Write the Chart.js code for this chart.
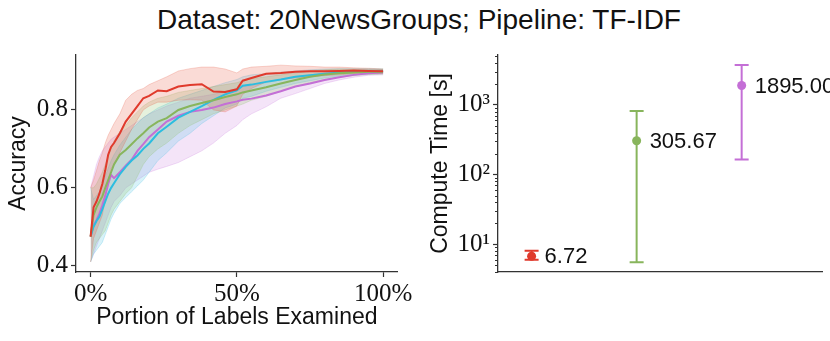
<!DOCTYPE html>
<html>
<head>
<meta charset="utf-8">
<script src="https://cdn.jsdelivr.net/npm/chart.js@4/dist/chart.umd.min.js"></script>
<style>
  html, body { margin: 0; padding: 0; background: #fff; overflow: hidden; }
  #wrap { position: relative; width: 830px; height: 341px; }
  #title { position: absolute; left: 0; top: 6px; width: 838px; text-align: center;
           font-family: "Liberation Sans", Arial, sans-serif; font-size: 28px; line-height: 28px; color: #111; }
  #left { position: absolute; left: 0; top: 0; }
  #right { position: absolute; left: 415px; top: 0; }
</style>
</head>
<body>
<div id="wrap">
  <div id="title">Dataset: 20NewsGroups; Pipeline: TF-IDF</div>
  <canvas id="left" width="415" height="341"></canvas>
  <canvas id="right" width="415" height="341"></canvas>
</div>
<script>
// portion of labels examined (%)
const pct = [0,1,2,3,4,5,6,7,8,10,12,14,16,18,20,23,26,30,34,38,42,46,50,52,55,60,65,70,75,80,85,90,95,100];

// red
const redMean  = [0.475,0.55,0.565,0.585,0.61,0.645,0.685,0.705,0.715,0.74,0.77,0.79,0.81,0.83,0.836,0.85,0.848,0.86,0.864,0.866,0.847,0.846,0.853,0.875,0.882,0.893,0.895,0.898,0.899,0.899,0.9,0.901,0.9,0.899];
const redHigh  = [0.6,0.62,0.645,0.67,0.69,0.715,0.735,0.75,0.765,0.79,0.825,0.84,0.85,0.855,0.865,0.875,0.885,0.9,0.906,0.91,0.91,0.905,0.895,0.905,0.91,0.912,0.915,0.913,0.912,0.91,0.91,0.908,0.907,0.905];
const redLow   = [0.41,0.47,0.49,0.51,0.53,0.57,0.62,0.65,0.66,0.69,0.72,0.75,0.775,0.8,0.81,0.82,0.82,0.825,0.826,0.825,0.8,0.795,0.81,0.84,0.855,0.872,0.878,0.882,0.885,0.888,0.89,0.893,0.893,0.893];
// green
const greenMean = [0.475,0.53,0.55,0.565,0.578,0.6,0.62,0.64,0.66,0.685,0.697,0.712,0.727,0.74,0.755,0.77,0.779,0.8,0.81,0.818,0.825,0.833,0.84,0.845,0.85,0.858,0.868,0.877,0.885,0.891,0.894,0.896,0.898,0.898];
const greenHigh = [0.6,0.6,0.61,0.625,0.64,0.66,0.68,0.7,0.72,0.745,0.76,0.78,0.795,0.81,0.82,0.83,0.835,0.845,0.85,0.855,0.86,0.865,0.87,0.875,0.88,0.885,0.89,0.895,0.9,0.903,0.905,0.905,0.905,0.905];
const greenLow  = [0.41,0.44,0.46,0.47,0.48,0.49,0.51,0.53,0.545,0.565,0.585,0.6,0.63,0.66,0.68,0.7,0.715,0.74,0.76,0.775,0.79,0.8,0.81,0.815,0.825,0.835,0.848,0.86,0.87,0.878,0.884,0.888,0.891,0.892];
// cyan
const cyanMean = [0.475,0.5,0.515,0.526,0.545,0.565,0.585,0.6,0.612,0.635,0.654,0.67,0.683,0.7,0.714,0.74,0.757,0.78,0.795,0.81,0.826,0.84,0.85,0.862,0.865,0.872,0.878,0.885,0.889,0.893,0.896,0.898,0.899,0.899];
const cyanHigh = [0.6,0.57,0.58,0.59,0.61,0.63,0.65,0.67,0.685,0.71,0.73,0.75,0.765,0.78,0.79,0.805,0.815,0.83,0.84,0.85,0.86,0.87,0.878,0.885,0.89,0.893,0.897,0.9,0.903,0.905,0.906,0.906,0.906,0.905];
const cyanLow  = [0.41,0.43,0.44,0.45,0.46,0.48,0.5,0.52,0.535,0.56,0.575,0.59,0.605,0.62,0.64,0.67,0.69,0.72,0.74,0.765,0.785,0.805,0.815,0.83,0.835,0.848,0.858,0.868,0.875,0.882,0.887,0.89,0.892,0.893];
// purple
const purpleMean = [0.475,0.505,0.517,0.534,0.555,0.58,0.61,0.633,0.625,0.64,0.657,0.672,0.695,0.712,0.73,0.75,0.77,0.785,0.795,0.8,0.806,0.815,0.822,0.826,0.829,0.837,0.848,0.86,0.868,0.877,0.884,0.89,0.894,0.897];
const purpleHigh = [0.6,0.63,0.66,0.68,0.695,0.705,0.715,0.725,0.73,0.74,0.75,0.76,0.77,0.78,0.79,0.8,0.81,0.82,0.83,0.835,0.84,0.848,0.855,0.86,0.862,0.87,0.877,0.885,0.89,0.895,0.9,0.902,0.904,0.904];
const purpleLow  = [0.41,0.43,0.45,0.47,0.49,0.51,0.53,0.55,0.565,0.58,0.6,0.61,0.62,0.63,0.64,0.648,0.655,0.665,0.68,0.695,0.715,0.74,0.76,0.775,0.79,0.808,0.83,0.842,0.855,0.868,0.877,0.884,0.889,0.89];

// compute time (s): red, green, purple
const timeX    = [0, 1, 2];
const timeMean = [6.72, 305.67, 1895.00];
const timeLow  = [6.0, 5.5, 164];
const timeHigh = [8.1, 820, 3750];

const accTicks = [0.4, 0.6, 0.8];
const pctTicks = [0, 50, 100];
const logTicks = [10, 100, 1000];

const RED = '#e03a2c', GREEN = '#88b55c', CYAN = '#2cbde0', PURPLE = '#c46fd6';
const SANS = '"Liberation Sans", Arial, sans-serif';
const SERIF = '"Liberation Serif", "Times New Roman", serif';
const AX = '#333';

const pts = ys => pct.map((x, i) => ({ x: x, y: ys[i] }));

function line(ys, color) {
  return { data: pts(ys), borderColor: color, borderWidth: 2, pointRadius: 0, fill: false, tension: 0 };
}
function band(hi, lo, fillCol, edgeCol) {
  return [
    { data: pts(hi), borderColor: edgeCol, borderWidth: 0.8, pointRadius: 0, backgroundColor: fillCol, fill: '+1' },
    { data: pts(lo), borderColor: edgeCol, borderWidth: 0.8, pointRadius: 0, fill: false }
  ];
}

new Chart(document.getElementById('left'), {
  type: 'line',
  data: {
    datasets: [
      line(redMean, RED),
      line(greenMean, GREEN),
      line(cyanMean, CYAN),
      line(purpleMean, PURPLE),
      ...band(redHigh, redLow, 'rgba(232,90,70,0.22)', 'rgba(232,90,70,0.3)'),
      ...band(greenHigh, greenLow, 'rgba(140,190,100,0.22)', 'rgba(140,190,100,0.3)'),
      ...band(cyanHigh, cyanLow, 'rgba(60,190,225,0.2)', 'rgba(60,190,225,0.3)'),
      ...band(purpleHigh, purpleLow, 'rgba(200,120,220,0.2)', 'rgba(200,120,220,0.3)')
    ]
  },
  options: {
    responsive: false,
    animation: false,
    layout: { padding: { top: 55, right: 16, left: 0, bottom: 0 } },
    plugins: { legend: { display: false }, tooltip: { enabled: false } },
    scales: {
      x: {
        type: 'linear', min: -5, max: 105,
        afterBuildTicks: s => { s.ticks = pctTicks.map(v => ({ value: v })); },
        afterFit: s => { s.height = 69; },
        ticks: { callback: v => v + '%', font: { family: SERIF, size: 25 }, color: '#111', padding: 2, maxRotation: 0 },
        grid: { display: true, drawOnChartArea: false, tickLength: 5, tickColor: AX, tickWidth: 1.2 },
        border: { display: true, color: AX, width: 1.3 },
        title: { display: true, text: 'Portion of Labels Examined', font: { family: SANS, size: 23 }, color: '#111', padding: { top: 0, bottom: 10 } }
      },
      y: {
        min: 0.384, max: 0.941,
        afterBuildTicks: s => { s.ticks = accTicks.map(v => ({ value: v })); },
        afterFit: s => { s.width = 76; },
        ticks: { callback: v => v.toFixed(1), font: { family: SERIF, size: 25 }, color: '#111', padding: 3 },
        grid: { display: true, drawOnChartArea: false, tickLength: 5, tickColor: AX, tickWidth: 1.2 },
        border: { display: true, color: AX, width: 1.3 },
        title: { display: true, text: 'Accuracy', font: { family: SANS, size: 23 }, color: '#111', padding: { top: 5, bottom: 0 } }
      }
    }
  }
});

// error bars, value labels and minor log ticks for the right panel
const errorBars = {
  id: 'errorBars',
  afterDatasetsDraw(chart) {
    const { ctx, scales: { x, y } } = chart;
    ctx.save();
    timeX.forEach((t, i) => {
      const px = x.getPixelForValue(t);
      const top = y.getPixelForValue(timeHigh[i]);
      const bot = y.getPixelForValue(timeLow[i]);
      ctx.strokeStyle = [RED, GREEN, PURPLE][i];
      ctx.lineWidth = 2;
      ctx.beginPath();
      ctx.moveTo(px, top); ctx.lineTo(px, bot);
      ctx.moveTo(px - 7, top); ctx.lineTo(px + 7, top);
      ctx.moveTo(px - 7, bot); ctx.lineTo(px + 7, bot);
      ctx.stroke();
      ctx.fillStyle = '#111';
      ctx.font = '22px ' + SANS;
      ctx.textBaseline = 'middle';
      ctx.fillText(timeMean[i].toFixed(2), px + 13, y.getPixelForValue(timeMean[i]) + 1);
    });
    // minor ticks
    ctx.strokeStyle = AX;
    ctx.lineWidth = 1;
    ctx.beginPath();
    for (let d = 1; d <= 1000; d *= 10) {
      for (let m = 2; m <= 9; m++) {
        const v = m * d;
        if (v < y.min || v > y.max) continue;
        const py = Math.round(y.getPixelForValue(v)) + 0.5;
        ctx.moveTo(x.left, py); ctx.lineTo(x.left - 3, py);
      }
    }
    ctx.stroke();
    ctx.restore();
  }
};

const sup = { 1: '\u00b9', 2: '\u00b2', 3: '\u00b3' };

new Chart(document.getElementById('right'), {
  type: 'scatter',
  data: {
    datasets: [{
      data: timeX.map((t, i) => ({ x: t, y: timeMean[i] })),
      pointRadius: 4.5,
      pointBackgroundColor: [RED, GREEN, PURPLE],
      pointBorderWidth: 0
    }]
  },
  options: {
    responsive: false,
    animation: false,
    layout: { padding: { top: 55, right: 8, left: 0, bottom: 0 } },
    plugins: { legend: { display: false }, tooltip: { enabled: false } },
    scales: {
      x: {
        type: 'linear', min: -0.32, max: 2.765,
        afterFit: s => { s.height = 69; },
        ticks: { display: false },
        grid: { display: false },
        border: { display: true, color: AX, width: 1.3 }
      },
      y: {
        type: 'logarithmic', min: 4.0, max: 5200,
        afterBuildTicks: s => { s.ticks = logTicks.map(v => ({ value: v })); },
        afterFit: s => { s.width = 83; },
        ticks: { callback: v => '10' + sup[Math.round(Math.log10(v))], font: { family: SERIF, size: 25 }, color: '#111', padding: 3 },
        grid: { display: true, drawOnChartArea: false, tickLength: 5, tickColor: AX, tickWidth: 1.2 },
        border: { display: true, color: AX, width: 1.3 },
        title: { display: true, text: 'Compute Time [s]', font: { family: SANS, size: 23 }, color: '#111', padding: { top: 12, bottom: 0 } }
      }
    }
  },
  plugins: [errorBars]
});
</script>
</body>
</html>
